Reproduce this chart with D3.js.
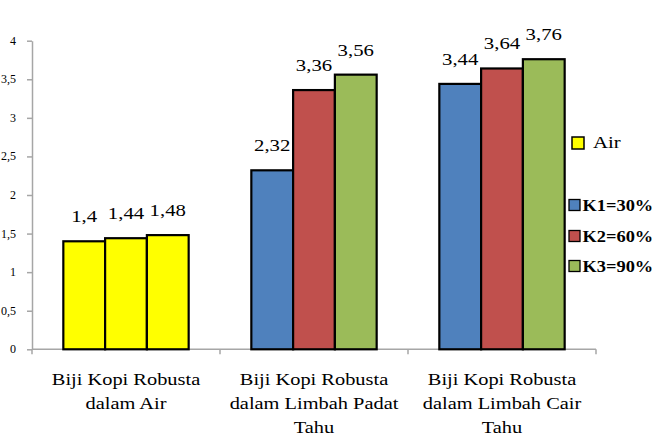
<!DOCTYPE html>
<html>
<head>
<meta charset="utf-8">
<script src="https://cdn.jsdelivr.net/npm/d3@7"></script>
<style>
  html, body { margin: 0; padding: 0; background: #fff; }
  svg { display: block; }
  svg text { font-family: "Liberation Serif", "DejaVu Serif", "Noto Serif", Tinos, FreeSerif, "Nimbus Roman", Times, serif; }
</style>
</head>
<body>
<svg id="chart" width="660" height="445"></svg>
<script>
// ---- data ----
const categories = [
  "Biji Kopi Robusta dalam Air",
  "Biji Kopi Robusta dalam Limbah Padat Tahu",
  "Biji Kopi Robusta dalam Limbah Cair Tahu"
];
const categoryLines = [
  ["Biji Kopi Robusta", "dalam Air"],
  ["Biji Kopi Robusta", "dalam Limbah Padat", "Tahu"],
  ["Biji Kopi Robusta", "dalam Limbah Cair", "Tahu"]
];
const seriesNames = ["K1=30%", "K2=60%", "K3=90%"];
const k1Values = [1.4, 2.32, 3.44];
const k2Values = [1.44, 3.36, 3.64];
const k3Values = [1.48, 3.56, 3.76];
const yTicks = [0, 0.5, 1, 1.5, 2, 2.5, 3, 3.5, 4];
const legendAir = "Air";

// ---- styles ----
const seriesColors = ["#4F81BD", "#C0504D", "#9BBB59"];
const airColor = "#FFFF00";
const axisColor = "#A6A6A6";

const svg = d3.select("#chart");
const plotLeft = 32, plotRight = 596, plotTop = 40.7, plotBottom = 349.3;

const y = d3.scaleLinear().domain([0, 4]).range([plotBottom, plotTop]);
const x0 = d3.scaleBand().domain(categories).range([plotLeft, plotRight]).padding(0);
const x1 = d3.scaleBand().domain(seriesNames)
  .range([x0.bandwidth() / 6, x0.bandwidth() * 5 / 6]).padding(0);

const fmt = v => String(v).replace(".", ",");

// y axis
const yAxis = svg.append("g").attr("transform", `translate(${plotLeft},0)`)
  .call(d3.axisLeft(y).tickValues(yTicks).tickSize(5).tickSizeOuter(0).tickFormat(() => ""));
yAxis.select(".domain").attr("stroke", axisColor).attr("stroke-width", 1.5);
yAxis.selectAll(".tick line").attr("stroke", axisColor).attr("stroke-width", 1.5);

svg.append("g")
  .selectAll("text").data(yTicks).join("text")
  .attr("x", 16).attr("y", d => y(d) + 4)
  .attr("text-anchor", "end")
  .style("font-size", "12px").attr("fill", "#000")
  .text(d => fmt(d));

// x axis
const xAxisG = svg.append("g").attr("transform", `translate(0,${plotBottom})`);
xAxisG.append("line").attr("x1", plotLeft).attr("x2", plotRight)
  .attr("stroke", axisColor).attr("stroke-width", 1.5);
const boundaries = [plotLeft].concat(categories.map(c => x0(c) + x0.bandwidth()));
xAxisG.selectAll("line.tk").data(boundaries).join("line").attr("class", "tk")
  .attr("x1", d => d).attr("x2", d => d).attr("y1", 0).attr("y2", 5)
  .attr("stroke", axisColor).attr("stroke-width", 1.5);

// bars
const allSeries = [k1Values, k2Values, k3Values];
const barData = [];
categories.forEach((c, ci) => {
  seriesNames.forEach((s, si) => {
    barData.push({ c, ci, s, si, v: allSeries[si][ci] });
  });
});

svg.append("g").selectAll("rect").data(barData).join("rect")
  .attr("x", d => x0(d.c) + x1(d.s))
  .attr("y", d => y(d.v))
  .attr("width", x1.bandwidth())
  .attr("height", d => y(0) - y(d.v))
  .attr("fill", d => d.ci === 0 ? airColor : seriesColors[d.si])
  .attr("stroke", "#000").attr("stroke-width", 2.2);

// value labels
svg.append("g").selectAll("g").data(barData).join("g")
  .attr("transform", d => `translate(${x0(d.c) + x1(d.s) + x1.bandwidth() / 2},${y(d.v) - 19})`)
  .append("text").attr("text-anchor", "middle")
  .attr("transform", "scale(1.3,1)")
  .style("font-size", "16px").attr("fill", "#000")
  .text(d => fmt(d.v));

// category labels
const catG = svg.append("g").selectAll("g").data(categories).join("g")
  .attr("transform", c => `translate(${x0(c) + x0.bandwidth() / 2},0)`);
catG.each(function (c, i) {
  d3.select(this).selectAll("text").data(categoryLines[i]).join("text")
    .attr("text-anchor", "middle")
    .attr("transform", (l, li) => `translate(0,${385 + li * 24}) scale(1.2,1)`)
    .style("font-size", "17px").attr("fill", "#000")
    .text(l => l);
});

// legend
const lg = svg.append("g");
lg.append("rect").attr("x", 572).attr("y", 137).attr("width", 12).attr("height", 12)
  .attr("fill", airColor).attr("stroke", "#000").attr("stroke-width", 1.5);
lg.append("text").attr("transform", "translate(593,147.5) scale(1.3,1)")
  .style("font-size", "16px").attr("fill", "#000").text(legendAir);

const legendY = [205, 236, 266];
seriesNames.forEach((s, i) => {
  lg.append("rect").attr("x", 569).attr("y", legendY[i] - 5.5).attr("width", 11).attr("height", 11)
    .attr("fill", seriesColors[i]).attr("stroke", "#000").attr("stroke-width", 1.3);
  lg.append("text").attr("transform", `translate(582.5,${legendY[i] + 5.5}) scale(1.15,1)`)
    .style("font-size", "16px").style("font-weight", "bold")
    .attr("fill", "#000").text(s);
});
</script>
</body>
</html>
